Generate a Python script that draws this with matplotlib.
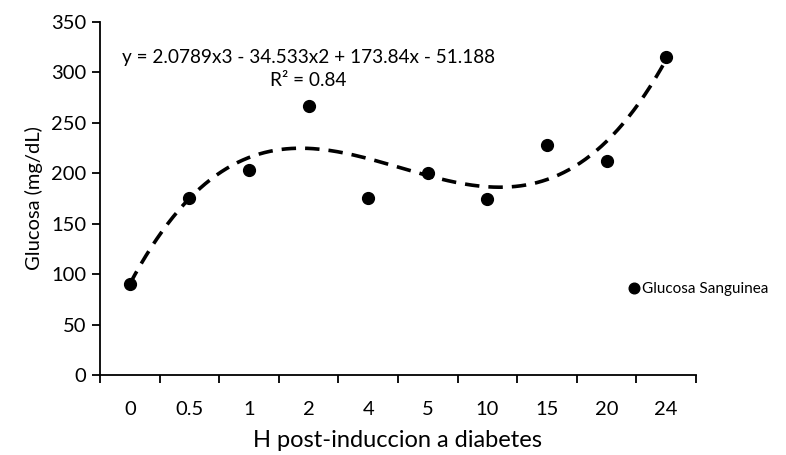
import numpy as np
import matplotlib.pyplot as plt

plt.rcParams['font.family'] = ['Lato', 'DejaVu Sans']

# data
categories = ['0', '0.5', '1', '2', '4', '5', '10', '15', '20', '24']
glucosa = [90, 176, 203, 267, 176, 200, 175, 228, 212, 315]
# cubic trendline coefficients as printed on the chart (x = category index 1..10)
coef = [2.0789, -34.533, 173.84, -51.188]
r2 = 0.84

fig = plt.figure(figsize=(7.86, 4.55), dpi=100)
ax = fig.add_axes([0.1272, 0.1758, 0.7583, 0.7758])

x = np.arange(1, len(categories) + 1)
xs = np.linspace(1, len(categories), 200)
ax.plot(xs, np.polyval(coef, xs), color='black', lw=2.6, ls=(0, (4, 2.5)), zorder=2)
ax.plot(x, glucosa, 'o', color='black', ms=8.5, zorder=3, label='Glucosa Sanguinea')

ax.set_xlim(0.5, len(categories) + 0.5)
ax.set_ylim(0, 350)
ax.set_yticks(range(0, 351, 50))
ax.set_xticks(x)
ax.set_xticklabels(categories)
ax.set_xticks(np.arange(0.5, len(categories) + 1, 1), minor=True)
ax.tick_params(axis='x', which='major', length=0, pad=19, labelsize=14.5)
ax.tick_params(axis='x', which='minor', length=6, width=1.3, direction='out')
ax.tick_params(axis='y', length=6, width=1.3, direction='out', labelsize=14.5, pad=4)

for s in ['top', 'right']:
    ax.spines[s].set_visible(False)
for s in ['left', 'bottom']:
    ax.spines[s].set_linewidth(1.3)

ax.set_xlabel('H post-induccion a diabetes', fontsize=17, labelpad=8)
ax.set_ylabel('Glucosa (mg/dL)', fontsize=14.5, labelpad=6)

eq = 'y = %.4fx3 - %.3fx2 + %.2fx - %.3f' % (coef[0], -coef[1], coef[2], -coef[3])
ax.text(4.0, 315, eq, ha='center', va='center', fontsize=13.7)
ax.text(4.0, 292, 'R² = %.2f' % r2, ha='center', va='center', fontsize=13.7)

fig.legend(loc='center left', bbox_to_anchor=(0.788, 1 - 289 / 455), frameon=False,
           handletextpad=0.0, handlelength=1.1, fontsize=11, borderaxespad=0,
           markerscale=0.9)

plt.savefig('out.png', dpi=100)
